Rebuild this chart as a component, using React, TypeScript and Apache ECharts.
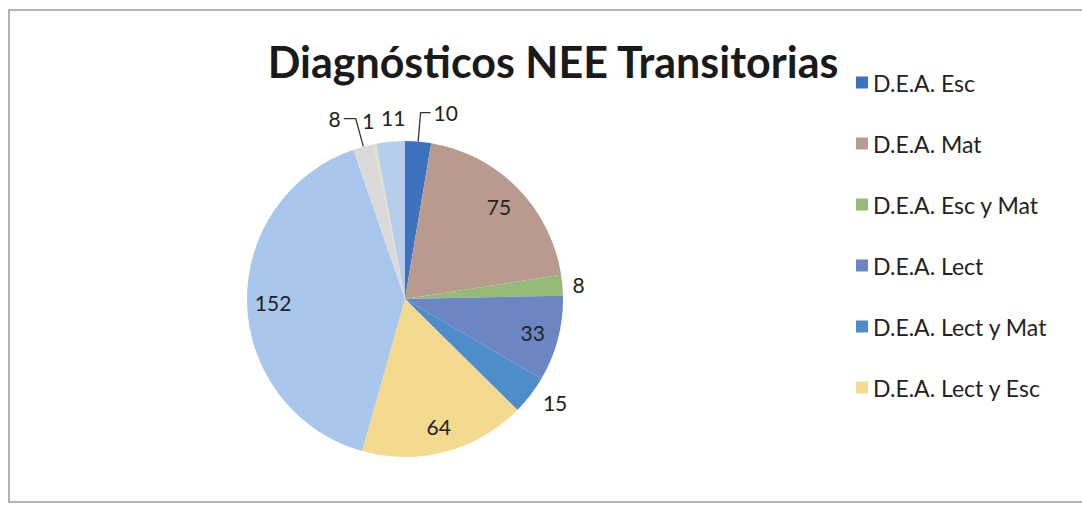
import React, { useEffect, useRef } from "react";
import * as echarts from "echarts";

const TITLE = "Diagnósticos NEE Transitorias";
const categories = [
  "D.E.A. Esc",
  "D.E.A. Mat",
  "D.E.A. Esc y Mat",
  "D.E.A. Lect",
  "D.E.A. Lect y Mat",
  "D.E.A. Lect y Esc",
  "Otros A",
  "Otros B",
  "Otros C",
  "Otros D",
];
const values = [10, 75, 8, 33, 15, 64, 152, 8, 1, 11];
const legendCategories = categories.slice(0, 6);
const colors = [
  "#3c72bf",
  "#b99a8e",
  "#97ba78",
  "#6b86c3",
  "#4f8dca",
  "#f3da8e",
  "#a9c7ec",
  "#dadada",
  "#e6dfc6",
  "#b6cdec",
];
// which values are printed inside the slice
const insideLabel = [false, true, false, true, false, true, true, false, false, false];

const FONT = "Lato, 'Open Sans', sans-serif";

export default function App() {
  const ref = useRef<HTMLDivElement>(null);
  useEffect(() => {
    if (!ref.current) return;
    const chart = echarts.init(ref.current, null, { renderer: "svg" });
    const outsideCfg: Record<number, any> = {
      0: { length: 29, length2: 10, line: true },
      2: { length: 5, length2: 2, line: false },
      4: { length: 12, length2: 0, line: false },
      7: { length: 29, length2: 12, line: true },
      8: { length: 24, length2: 0, line: false },
      9: { length: 24, length2: 0, line: false },
    };
    const mainData = values.map((v, i) => {
      const cfg = outsideCfg[i];
      return {
        name: categories[i],
        value: v,
        itemStyle: { color: colors[i] },
        label: cfg ? { show: true, position: "outside" } : { show: false },
        labelLine: cfg
          ? {
              show: cfg.line,
              length: cfg.length,
              length2: cfg.length2,
              lineStyle: { color: "#333", width: 1.3 },
            }
          : { show: false },
      };
    });
    const innerData = values.map((v, i) => ({
      name: categories[i],
      value: v,
      itemStyle: { color: "rgba(0,0,0,0)" },
      label: { show: insideLabel[i] },
    }));
    chart.setOption({
      animation: false,
      backgroundColor: "#ffffff",
      title: {
        text: TITLE,
        left: 548,
        top: 35,
        textAlign: "center",
        textStyle: {
          fontFamily: FONT,
          fontWeight: "bold",
          fontSize: 43,
          color: "#1a1a1a",
        },
      },
      legend: {
        data: legendCategories,
        orient: "vertical",
        left: 851,
        top: 66,
        icon: "rect",
        itemWidth: 12,
        itemHeight: 12,
        itemGap: 38,
        textStyle: { fontFamily: FONT, fontSize: 23, color: "#222" },
      },
      graphic: [
        {
          type: "rect",
          shape: { x: 9, y: 10, width: 1090, height: 492 },
          style: { fill: "none", stroke: "#9a9a9a", lineWidth: 1.5 },
          silent: true,
        },
      ],
      series: [
        {
          type: "pie",
          center: [405, 299],
          radius: 158,
          startAngle: 90,
          clockwise: true,
          avoidLabelOverlap: false,
          data: mainData,
          label: {
            fontFamily: FONT,
            fontSize: 21,
            color: "#222",
            formatter: "{c}",
            distanceToLabelLine: 3,
          },
          labelLayout: (p: any) =>
            p.dataIndex === 9 ? { dx: 20 } : p.dataIndex === 8 ? { dx: 7 } : {},
          emphasis: { disabled: true },
        },
        {
          type: "pie",
          center: [405, 299],
          radius: [100, 158],
          startAngle: 90,
          clockwise: true,
          silent: true,
          avoidLabelOverlap: false,
          data: innerData,
          label: {
            position: "inside",
            fontFamily: FONT,
            fontSize: 21,
            color: "#222",
            formatter: "{c}",
          },
          labelLine: { show: false },
          emphasis: { disabled: true },
        },
      ],
    });
    return () => chart.dispose();
  }, []);
  return (
    <div
      ref={ref}
      style={{ position: "fixed", left: 0, top: 0, width: 1082, height: 505 }}
    />
  );
}
